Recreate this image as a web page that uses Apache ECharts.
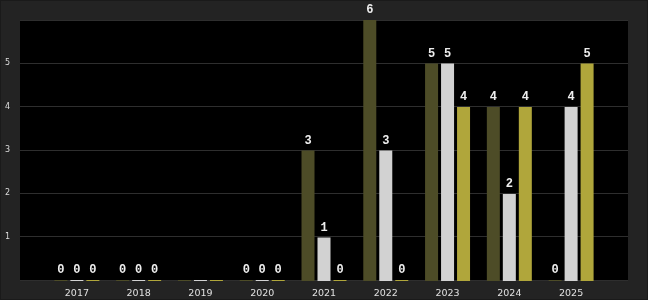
<!DOCTYPE html>
<html><head><meta charset="utf-8">
<script src="https://cdn.jsdelivr.net/npm/echarts@6/dist/echarts.min.js"></script>
<style>
html,body{margin:0;padding:0;background:#222;}
#c{width:646px;height:298px;border:1px solid #1a1a1a;background:#232323;}
</style></head><body>
<div id="c"></div>
<script>
const categories = ['2017','2018','2019','2020','2021','2022','2023','2024','2025'];
const seriesA = [0,0,0,0,3,6,5,4,0];
const seriesB = [0,0,0,0,1,3,5,2,4];
const seriesC = [0,0,0,0,0,0,4,4,5];
const unlabeled = ['2019'];
const yTicks = [1,2,3,4,5];

const colors = ['#4d4c27','#d2d2d2','#b0a63b'];
const chart = echarts.init(document.getElementById('c'), null, {renderer:'canvas'});
function mk(name, vals, color){
  return {
    type:'bar', name, xAxisIndex:1, yAxisIndex:1,
    data: vals.map((v,i)=>({value:v, label:{show: unlabeled.indexOf(categories[i])<0}})),
    barWidth:13, barGap:'23%', barMinHeight:1,
    itemStyle:{color, borderWidth:0},
    label:{show:true, position:'top', distance:4, color:'#eee',
      fontFamily:'Liberation Mono', fontWeight:'bold', fontSize:12},
    silent:true, animation:false
  };
}
chart.setOption({
  backgroundColor:'#232323',
  animation:false,
  grid:[
    {left:19, right:19, top:19, bottom:19, show:true, backgroundColor:'#000', borderWidth:0},
    {left:45, right:45, top:19, bottom:18}
  ],
  xAxis:[
    {type:'value', gridIndex:0, show:false, splitLine:{show:false}},
    {type:'category', gridIndex:1, data:categories,
     axisLine:{show:false}, axisTick:{show:false},
     axisLabel:{color:'#e0e0e0', fontFamily:'DejaVu Sans', fontSize:9.5, margin:8}}
  ],
  yAxis:[
    {type:'value', gridIndex:0, min:0, max:6, interval:1,
     axisLine:{show:false}, axisTick:{show:false},
     axisLabel:{color:'#ddd', fontFamily:'DejaVu Sans', fontSize:8, margin:10, align:'right',
       formatter:v=> yTicks.indexOf(v)>=0 ? String(v) : ''},
     splitLine:{lineStyle:{color:'#2e2e2e', width:1}}},
    {type:'value', gridIndex:1, min:0, max:6, interval:1, show:false, splitLine:{show:false}}
  ],
  series:[mk('A',seriesA,colors[0]), mk('B',seriesB,colors[1]), mk('C',seriesC,colors[2])]
});
</script></body></html>
